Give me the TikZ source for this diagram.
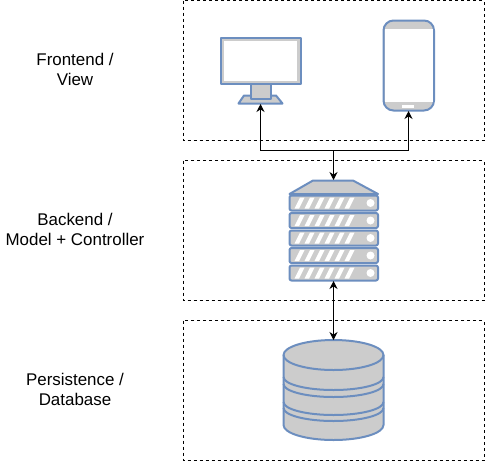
\documentclass[tikz,border=0pt]{standalone}
\usepackage{fontspec}
\setmainfont{Liberation Sans}
\usetikzlibrary{arrows.meta}
\definecolor{iconblue}{HTML}{6C8EBF}
\definecolor{icongray}{HTML}{CCCCCC}
\tikzset{
	tierbox/.style={draw=black,dashed,line width=0.75pt,dash pattern=on 2.25pt off 2.25pt},
	tierlabel/.style={align=center,font=\fontsize{12.7pt}{15pt}\selectfont},
	iconpart/.style={draw=iconblue,fill=icongray,line width=1.5pt,line join=round},
	link/.style={draw=black,line width=0.75pt,{Stealth[length=6pt,width=6pt]}-{Stealth[length=6pt,width=6pt]}},
	uplink/.style={draw=black,line width=0.75pt,-{Stealth[length=6pt,width=6pt]}}
}
\begin{document}
\begin{tikzpicture}[x=0.75pt,y=-0.75pt]
	\useasboundingbox (0,0) rectangle (485,461);
	\draw [tierbox] (183,0.5) rectangle (484,140);
	\draw [tierbox] (183,160.5) rectangle (484,300);
	\draw [tierbox] (183,320.5) rectangle (484,460);
	\node [tierlabel] (frontend) at (75,69) {Frontend /\\View};
	\node [tierlabel] (backend) at (75,229) {Backend /\\Model + Controller};
	\node [tierlabel] (database) at (75,389) {Persistence /\\Database};
	% monitor
	\draw [iconpart] (244,95.5) -- (276,95.5) -- (282.5,103.5) -- (238.5,103.5) -- cycle;
	\draw [iconpart] (250.5,84) rectangle (270.5,99);
	\draw [iconpart] (220.5,38) rectangle (300.5,84);
	\fill [white] (223.5,41) rectangle (296.5,80.5);
	% phone
	\draw [iconpart,rounded corners=7.5pt] (383.5,20.5) rectangle (434,110.5);
	\fill [white] (385,28.5) rectangle (432.5,101.5);
	\fill [white] (402,105) rectangle (414,108);
	% server
	\draw [iconpart] (313,180.5) -- (353,180.5) -- (378,194) -- (289.5,194) -- cycle;
	\foreach \top in {195.5,213,230.5,248,265.5} {
		\draw [iconpart,rounded corners=1.5pt] (289.5,\top) rectangle (378,\top+15);
		\foreach \shift in {0,...,5}
			\fill [white] (294.5+\shift*10,\top+13) -- (299+\shift*10,\top+13) -- (304.5+\shift*10,\top+2) -- (300+\shift*10,\top+2) -- cycle;
		\fill [white] (370.5,\top+7.5) circle [radius=3pt];
	}
	% database
	\draw [iconpart] (283.5,355) -- (283.5,425) arc [start angle=180,end angle=0,x radius=50,y radius=15] -- (383.5,355) arc [start angle=0,end angle=-180,x radius=50,y radius=15] -- cycle;
	\draw [iconpart,fill=none] (283.5,355) arc [start angle=180,end angle=0,x radius=50,y radius=15];
	\foreach \edge in {377,384,402,408}
		\draw [iconpart,fill=none] (283.5,\edge) arc [start angle=180,end angle=0,x radius=50,y radius=13];
	% connectors
	\coordinate (monitor) at (260.5,104);
	\coordinate (phone) at (408.5,111);
	\coordinate (serverTop) at (333.5,180);
	\coordinate (serverBottom) at (333.5,281);
	\coordinate (cylinder) at (333.5,340);
	\coordinate (junction) at (333.5,150.5);
	\draw [uplink] (junction) -- (serverTop);
	\draw [uplink] (junction) -| (monitor);
	\draw [uplink] (junction) -| (phone);
	\draw [link] (serverBottom) -- (cylinder);
\end{tikzpicture}
\end{document}
